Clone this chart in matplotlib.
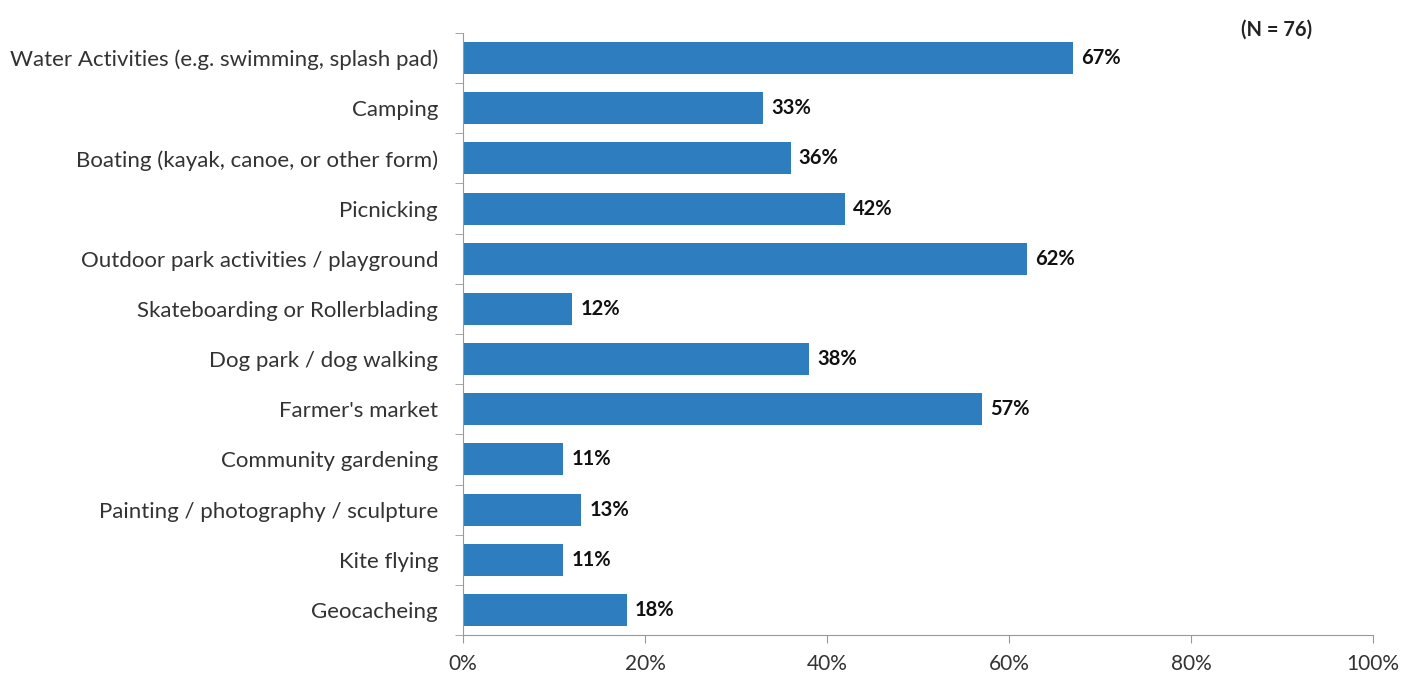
import matplotlib
matplotlib.use('Agg')
import matplotlib.pyplot as plt
from matplotlib.ticker import PercentFormatter

categories = ['Water Activities (e.g. swimming, splash pad)', 'Camping',
              'Boating (kayak, canoe, or other form)', 'Picnicking',
              'Outdoor park activities / playground', 'Skateboarding or Rollerblading',
              'Dog park / dog walking', "Farmer's market", 'Community gardening',
              'Painting / photography / sculpture', 'Kite flying', 'Geocacheing']
values = [67, 33, 36, 42, 62, 12, 38, 57, 11, 13, 11, 18]
x_ticks = [0, 20, 40, 60, 80, 100]

plt.rcParams['font.family'] = ['Lato', 'DejaVu Sans']

fig = plt.figure(figsize=(14.19, 6.79), dpi=100)
ax = fig.add_axes([0.3263, 0.0648, 0.6413, 0.8866])

pos = list(range(len(categories)))
ax.barh(pos, values, height=0.64, color='#2E7EBF')
for p, v in zip(pos, values):
    ax.text(v + 0.9, p, f'{v}%', va='center', ha='left', fontsize=14.5,
            fontweight='bold', color='#111111')

ax.set_ylim(len(categories) - 0.5, -0.5)
ax.set_yticks(pos)
ax.set_yticklabels(categories, fontsize=16, color='#333333')
ax.set_yticks([p - 0.5 for p in pos] + [len(categories) - 0.5], minor=True)
ax.tick_params(axis='y', which='major', length=0, pad=18)
ax.tick_params(axis='y', which='minor', length=6, color='#999999')

ax.set_xlim(0, 100)
ax.set_xticks(x_ticks)
ax.xaxis.set_major_formatter(PercentFormatter(decimals=0))
ax.tick_params(axis='x', length=6, color='#999999', labelsize=15,
               labelcolor='#333333', pad=8)

for s in ['top', 'right']:
    ax.spines[s].set_visible(False)
for s in ['left', 'bottom']:
    ax.spines[s].set_color('#999999')

fig.text(0.9245, 0.957, '(N = 76)', fontsize=14.5, fontweight='bold',
         ha='right', va='center', color='#222222')

fig.savefig('out.png', dpi=100)
